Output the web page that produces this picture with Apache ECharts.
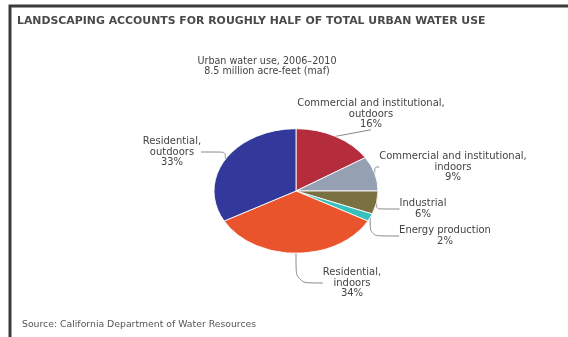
<!DOCTYPE html>
<html>
<head>
<meta charset="utf-8">
<script src="https://cdn.jsdelivr.net/npm/echarts@6/dist/echarts.min.js"></script>
<style>
  html, body { margin: 0; padding: 0; background: #fff; }
  #main { width: 568px; height: 337px; }
</style>
</head>
<body>
<div id="main"></div>
<script>
// 数据
var categories = [
    'Commercial and institutional,\noutdoors',
    'Commercial and institutional,\nindoors',
    'Industrial',
    'Energy production',
    'Residential,\nindoors',
    'Residential,\noutdoors'
];
var shares = [16, 9, 6, 2, 34, 33];
var sliceColors = ['#b52d3d', '#95a1b3', '#7a7040', '#38c0bc', '#e9542d', '#32399a'];

// 标签位置（手动摆放，跟原图一致）
var labelPos = [
    [371, 114],
    [453, 167],
    [423, 209],
    [445, 236],
    [352, 283],
    [172, 152]
];

var pieCenter = [296, 191];
var squash = 0.76; // 原图的饼是椭圆

var chart = echarts.init(document.getElementById('main'));

var pieData = categories.map(function (name, i) {
    return { name: name, value: shares[i], itemStyle: { color: sliceColors[i] } };
});

chart.setOption({
    backgroundColor: '#fff',
    animation: false,
    graphic: [
        {
            type: 'rect',
            shape: { x: 10, y: 6, width: 620, height: 400 },
            style: { fill: 'none', stroke: '#3a3a3a', lineWidth: 3 }
        },
        {
            type: 'text',
            x: 17, y: 16,
            style: {
                text: 'LANDSCAPING ACCOUNTS FOR ROUGHLY HALF OF TOTAL URBAN WATER USE',
                font: 'bold 10.9px "DejaVu Sans"', fill: '#4a4a4a'
            }
        },
        {
            type: 'text',
            x: 267, y: 57,
            style: {
                text: 'Urban water use, 2006\u20132010\n8.5 million acre-feet (maf)',
                font: '9.6px "DejaVu Sans"', fill: '#444', align: 'center', lineHeight: 9.5
            }
        },
        {
            type: 'text',
            x: 22, y: 320,
            style: {
                text: 'Source: California Department of Water Resources',
                font: '9.3px "DejaVu Sans"', fill: '#555'
            }
        }
    ],
    series: [{
        type: 'pie',
        center: pieCenter,
        radius: 82,
        startAngle: 90,
        clockwise: true,
        itemStyle: { borderColor: '#fff', borderWidth: 1 },
        label: {
            show: true,
            formatter: '{b}\n{c}%',
            fontFamily: 'DejaVu Sans',
            fontSize: 10,
            lineHeight: 10.5,
            color: '#444',
            align: 'center',
            overflow: 'none'
        },
        labelLine: {
            show: true,
            smooth: 0.3,
            lineStyle: { color: '#888', width: 1 }
        },
        labelLayout: function (params) {
            var p = labelPos[params.dataIndex];
            return { x: p[0], y: p[1], align: 'center', verticalAlign: 'middle' };
        },
        data: pieData
    }]
});

// 把扇形压扁成椭圆，引导线的起点也跟着压
chart.getZr().storage.getDisplayList(true).forEach(function (el) {
    if (el.type === 'sector') {
        el.scaleY = squash;
        el.originX = pieCenter[0];
        el.originY = pieCenter[1];
        el.markRedraw();
        var guide = el.getTextGuideLine && el.getTextGuideLine();
        if (guide && guide.shape.points) {
            var pts = guide.shape.points;
            pts[0][1] = pieCenter[1] + (pts[0][1] - pieCenter[1]) * squash;
            guide.dirtyShape();
        }
    }
});
</script>
</body>
</html>
